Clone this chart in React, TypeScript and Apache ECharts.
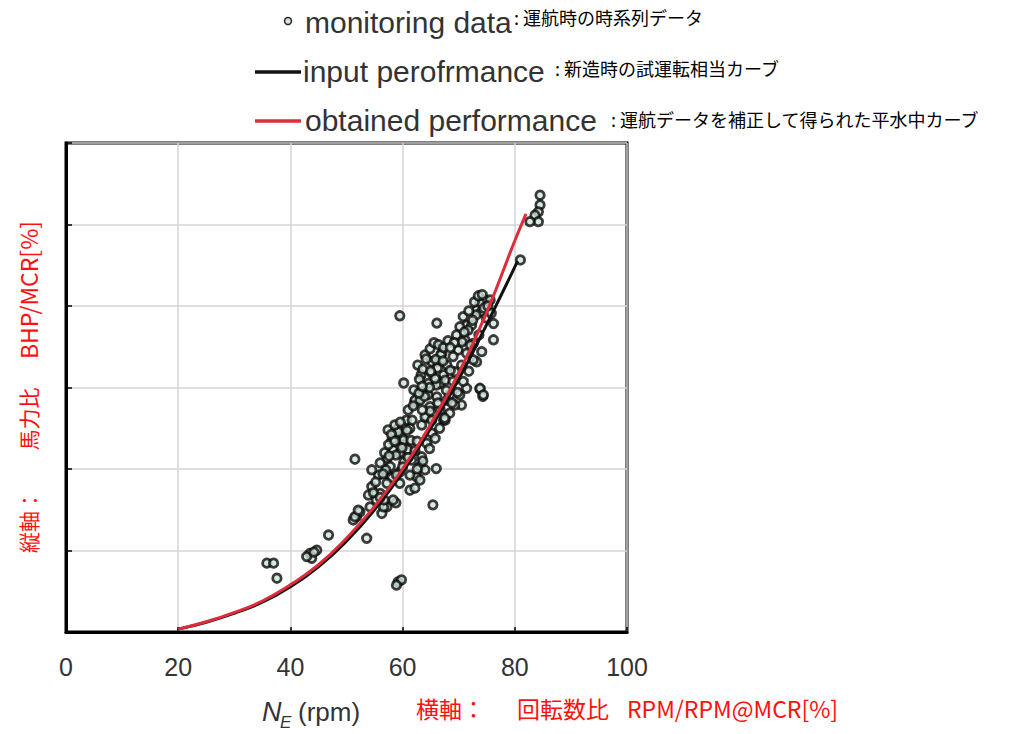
import React, { useEffect, useRef } from "react";
import * as echarts from "echarts";

// x axis ticks (rpm ratio, %)
const xTicks = [0, 20, 40, 60, 80, 100];

// input performance curve (black)
const inputRpm = [20, 25, 30, 35, 40, 45, 50, 55, 60, 65, 70, 75, 80.5];
const inputBhp = [0.7, 2.4, 4.6, 7.3, 11.1, 16.0, 22.3, 30.0, 39.2, 50.0, 62.0, 75.5, 91.0];

// obtained performance curve (red)
const obtainedRpm = [20, 25, 30, 35, 40, 45, 50, 55, 60, 65, 70, 75, 80, 82];
const obtainedBhp = [0.7, 2.5, 4.8, 7.6, 11.6, 16.5, 23.0, 30.8, 40.0, 51.0, 63.5, 78.5, 96.0, 102.6];

// monitoring data (scatter)
const monitoringRpm = [
  35.8, 37.0, 37.6, 43.5, 44.7, 43.8, 42.9, 44.2, 46.8, 53.6,
  51.8, 51.2, 52.4, 51.5, 52.1, 54.2, 56.3, 57.2, 58.8, 56.6,
  58.3, 65.4, 59.2, 59.8, 58.9, 51.5, 60.2, 59.5, 66.1, 66.0,
  73.8, 74.3, 81.0, 84.5, 84.5, 84.2, 83.6, 84.2, 82.7,
  62.2, 64.9, 64.3, 63.4, 61.3, 59.2, 59.8, 60.4, 58.3, 59.5,
  57.2, 57.8, 55.7, 57.8, 59.5, 61.6, 63.4, 67.3, 53.9, 54.5,
  56.0, 61.3, 59.5, 62.5, 63.1, 64.3, 65.2, 60.7, 58.9,
  74.7, 73.8, 73.2, 74.1, 70.8, 71.4, 70.2, 72.3, 76.2, 69.6,
  71.1, 72.6, 76.2, 69.9, 71.4, 74.1, 67.0, 69.0, 66.1, 67.9,
  70.5, 73.2, 65.2, 67.3, 69.3, 64.6, 66.7, 71.4, 73.8, 74.4,
  63.7, 66.1, 62.2, 67.9, 64.0, 68.4, 70.5,
  57.4, 58.1, 59.2, 60.2, 58.8, 57.0, 58.1, 60.2, 61.3, 56.7,
  55.3, 54.5, 62.7, 64.0, 65.2, 63.3, 62.0, 63.1, 64.5, 66.0,
  67.6, 68.4, 66.7, 65.2, 67.6, 69.3, 70.2, 61.0, 61.7,
  75.6, 74.5, 73.1, 71.7, 70.6, 74.9, 73.6, 72.1, 62.2, 63.1, 64.0,
  56.0, 56.8, 57.5, 58.0, 58.6, 59.6, 60.8, 61.5, 60.9, 59.9,
  58.6, 57.6, 56.5, 57.2, 58.9, 60.0, 61.0, 62.2, 62.6, 55.2,
  54.8, 56.0,
  63.0, 63.6, 64.2, 64.9, 65.6, 66.4, 66.8, 66.2, 65.8, 64.8,
  63.9, 62.9, 63.5, 65.0, 65.9, 67.3, 68.1, 67.2, 68.5, 69.0,
  67.8, 66.3, 64.9, 63.5, 61.9,
  71.8, 72.8, 73.5, 74.2, 75.2, 72.5, 71.0, 69.2, 68.5, 75.8,
  64.8, 65.8, 66.6, 67.5, 68.8, 69.8, 70.8, 71.8, 72.6, 63.6, 62.6,
];
const monitoringBhp = [
  16.9, 16.9, 13.2, 19.3, 20.1, 18.1, 18.5, 19.6, 23.8, 23.0,
  28.3, 27.5, 29.5, 28.3, 29.9, 30.7, 29.1, 30.7, 31.7, 30.7,
  32.4, 31.2, 12.3, 12.8, 11.5, 42.4, 61.1, 77.6, 75.8, 40.1,
  59.6, 57.8, 91.3, 107.2, 104.8, 103.1, 102.3, 100.7, 100.7,
  56.5, 55.3, 52.8, 50.8, 50.0, 50.0, 47.9, 45.9, 44.7, 43.9,
  42.6, 40.6, 38.5, 38.1, 39.3, 42.2, 43.0, 52.0, 33.6, 35.7,
  34.0, 34.8, 36.5, 38.1, 40.6, 46.3, 48.8, 52.0, 47.1,
  81.5, 80.7, 79.0, 78.6, 77.4, 75.3, 74.9, 75.3, 75.7, 72.9,
  71.7, 70.8, 71.7, 69.2, 68.4, 68.8, 68.4, 67.6, 66.3, 65.5,
  65.5, 66.3, 63.5, 63.1, 63.9, 61.0, 61.0, 59.8, 59.8, 58.2,
  59.0, 57.7, 56.9, 56.9, 52.8, 53.7, 55.7,
  49.6, 47.1, 49.1, 47.1, 43.4, 39.8, 37.8, 41.7, 38.5, 32.4,
  32.4, 39.8, 65.5, 68.0, 66.3, 63.1, 59.4, 56.9, 58.2, 60.6,
  61.8, 58.2, 54.5, 52.0, 52.0, 55.7, 58.2, 54.5, 52.0,
  81.5, 79.5, 77.8, 74.1, 71.2, 77.1, 72.9, 70.4, 35.3, 37.3, 39.8,
  41.5, 44.0, 46.0, 48.5, 50.8, 51.5, 49.5, 47.0, 44.8, 45.2,
  46.8, 43.2, 38.8, 36.5, 38.6, 40.5, 42.8, 44.5, 46.8, 36.8,
  34.2, 33.0,
  62.0, 64.5, 67.0, 69.5, 71.0, 70.5, 68.0, 64.8, 62.2, 60.0,
  57.8, 58.6, 60.3, 64.0, 66.9, 69.8, 71.5, 66.5, 64.2, 61.5,
  59.3, 56.2, 54.2, 54.5, 55.5,
  78.8, 81.0, 82.5, 82.8, 80.0, 76.5, 73.6, 71.0, 69.8, 78.2,
  45.0, 47.5, 50.0, 52.5, 56.2, 58.8, 61.5, 64.0, 66.8, 42.0, 40.0,
];

const RED = "#dd2c3c";
const LABEL_RED = "#ff1010";
const LATIN = "'Liberation Sans', Arial, sans-serif";
const CJK = "'Noto Sans CJK JP', sans-serif";

export default function App() {
  const ref = useRef<HTMLDivElement>(null);

  useEffect(() => {
    if (!ref.current) return;
    const chart = echarts.init(ref.current, null, { renderer: "svg" });

    const scatter = monitoringRpm.map((x, i) => [x, monitoringBhp[i]]);
    const inputLine = inputRpm.map((x, i) => [x, inputBhp[i]]);
    const obtainedLine = obtainedRpm.map((x, i) => [x, obtainedBhp[i]]);

    chart.setOption({
      animation: false,
      backgroundColor: "#ffffff",
      grid: {
        left: 66,
        top: 143,
        width: 561,
        height: 489,
        show: true,
        borderColor: "#000",
        borderWidth: 3,
        containLabel: false,
      },
      xAxis: {
        type: "value",
        min: 0,
        max: 100,
        interval: 20,
        axisLine: { show: true, lineStyle: { color: "#000", width: 3 } },
        axisTick: { show: true, inside: true, length: 5, lineStyle: { color: "#000", width: 1.5 } },
        splitLine: { show: true, lineStyle: { color: "#d4d4d4", width: 1.5 } },
        axisLabel: {
          show: true,
          margin: 22,
          fontSize: 25,
          color: "#333",
          fontFamily: LATIN,
          formatter: (v: number) => (xTicks.includes(v) ? String(v) : ""),
        },
      },
      yAxis: {
        type: "value",
        min: 0,
        max: 120,
        interval: 20,
        axisLine: { show: true, lineStyle: { color: "#000", width: 3 } },
        axisTick: { show: true, inside: true, length: 6, lineStyle: { color: "#000", width: 1.5 } },
        splitLine: { show: true, lineStyle: { color: "#d4d4d4", width: 1.5 } },
        axisLabel: { show: false },
      },
      series: [
        {
          type: "scatter",
          name: "monitoring data",
          data: scatter,
          symbol: "circle",
          symbolSize: 8.5,
          itemStyle: { color: "#cfe6da", borderColor: "#0d0d0d", borderWidth: 2.8 },
          z: 2,
        },
        {
          type: "line",
          name: "input perofrmance",
          data: inputLine,
          smooth: true,
          showSymbol: false,
          lineStyle: { color: "#111", width: 3 },
          z: 3,
        },
        {
          type: "line",
          name: "obtained performance",
          data: obtainedLine,
          smooth: true,
          showSymbol: false,
          lineStyle: { color: RED, width: 3 },
          z: 4,
        },
      ],
      graphic: [
        // legend row 1
        {
          type: "circle",
          shape: { cx: 288, cy: 21, r: 3.5 },
          style: { fill: "#cfe6da", stroke: "#222", lineWidth: 1.5 },
        },
        {
          type: "text",
          x: 305,
          y: 22,
          style: { text: "monitoring data", font: `30px ${LATIN}`, fill: "#333", textVerticalAlign: "middle" },
        },
        {
          type: "text",
          x: 514,
          y: 17,
          style: { text: ": 運航時の時系列データ", font: `18px ${CJK}`, fill: "#000", textVerticalAlign: "middle" },
        },
        // legend row 2
        {
          type: "line",
          shape: { x1: 255, y1: 72, x2: 301, y2: 72 },
          style: { stroke: "#111", lineWidth: 3.5 },
        },
        {
          type: "text",
          x: 303,
          y: 71,
          style: { text: "input perofrmance", font: `30px ${LATIN}`, fill: "#333", textVerticalAlign: "middle" },
        },
        {
          type: "text",
          x: 555,
          y: 68,
          style: { text: ": 新造時の試運転相当カーブ", font: `18px ${CJK}`, fill: "#000", textVerticalAlign: "middle" },
        },
        // legend row 3
        {
          type: "line",
          shape: { x1: 255, y1: 121, x2: 301, y2: 121 },
          style: { stroke: RED, lineWidth: 3.5 },
        },
        {
          type: "text",
          x: 305,
          y: 120,
          style: { text: "obtained performance", font: `30px ${LATIN}`, fill: "#333", textVerticalAlign: "middle" },
        },
        {
          type: "text",
          x: 611,
          y: 119,
          style: { text: ": 運航データを補正して得られた平水中カーブ", font: `18px ${CJK}`, fill: "#000", textVerticalAlign: "middle" },
        },
        // y axis title (red, vertical)
        {
          type: "text",
          x: 28,
          y: 553,
          rotation: Math.PI / 2,
          style: { text: "縦軸：", font: `21px ${CJK}`, fill: LABEL_RED, textAlign: "left", textVerticalAlign: "middle" },
        },
        {
          type: "text",
          x: 28,
          y: 419,
          rotation: Math.PI / 2,
          style: { text: "馬力比", font: `21px ${CJK}`, fill: LABEL_RED, textAlign: "center", textVerticalAlign: "middle" },
        },
        {
          type: "text",
          x: 28,
          y: 290,
          rotation: Math.PI / 2,
          style: { text: "BHP/MCR[%]", font: `23px ${CJK}`, fill: LABEL_RED, textAlign: "center", textVerticalAlign: "middle" },
        },
        // x axis title
        {
          type: "text",
          x: 262,
          y: 712,
          style: { text: "N", font: `italic 27px ${LATIN}`, fill: "#333", textVerticalAlign: "middle" },
        },
        {
          type: "text",
          x: 280,
          y: 722,
          style: { text: "E", font: `italic 17px ${LATIN}`, fill: "#333", textVerticalAlign: "middle" },
        },
        {
          type: "text",
          x: 298,
          y: 712,
          style: { text: "(rpm)", font: `26px ${LATIN}`, fill: "#333", textVerticalAlign: "middle" },
        },
        {
          type: "text",
          x: 416,
          y: 708,
          style: { text: "横軸：", font: `23px ${CJK}`, fill: LABEL_RED, textVerticalAlign: "middle" },
        },
        {
          type: "text",
          x: 517,
          y: 708,
          style: { text: "回転数比", font: `23px ${CJK}`, fill: LABEL_RED, textVerticalAlign: "middle" },
        },
        {
          type: "text",
          x: 627,
          y: 708,
          style: { text: "RPM/RPM@MCR[%]", font: `23px ${CJK}`, fill: LABEL_RED, textVerticalAlign: "middle" },
        },
      ],
    });

    return () => chart.dispose();
  }, []);

  return (
    <div
      ref={ref}
      style={{ position: "fixed", left: 0, top: 0, width: 1014, height: 734, background: "#fff" }}
    />
  );
}
